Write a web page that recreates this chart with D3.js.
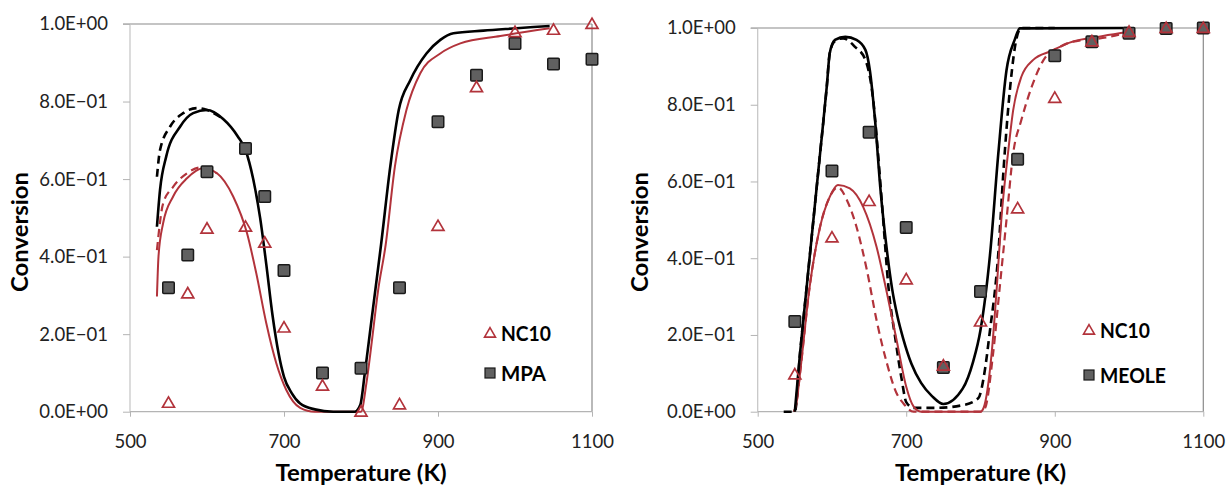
<!DOCTYPE html>
<html>
<head>
<meta charset="utf-8" />
<title>Conversion vs temperature</title>
<script src="https://cdn.jsdelivr.net/npm/d3@7"></script>
<style>
  html, body { margin: 0; background: #fff; }
  svg { display: block; font-family: Lato, "Open Sans", sans-serif; }
</style>
</head>
<body>
<div id="container"></div>
<script>
// ---- data ----
var xTicks = [500, 700, 900, 1100];
var yTicks = [0, 0.2, 0.4, 0.6, 0.8, 1.0];
var yTickLabels = ["0.0E+00", "2.0E\u221201", "4.0E\u221201", "6.0E\u221201", "8.0E\u221201", "1.0E+00"];

// left panel: NC10 / MPA
var leftTemps = [550, 575, 600, 650, 675, 700, 750, 800, 850, 900, 950, 1000, 1050, 1100];
var leftNC10 = [0.023, 0.305, 0.472, 0.477, 0.436, 0.217, 0.067, 0.0, 0.019, 0.479, 0.837, 0.979, 0.985, 1.0];
var leftMPA = [0.32, 0.404, 0.619, 0.679, 0.555, 0.364, 0.10, 0.112, 0.32, 0.748, 0.868, 0.95, 0.897, 0.909];

var leftMPASolid = [[535,0.477],[539,0.572],[547,0.658],[565,0.735],[582,0.77],[600,0.778],[621,0.755],
  [640,0.71],[650,0.675],[660,0.60],[669,0.50],[677,0.38],[685,0.25],[693,0.15],[700,0.09],[710,0.048],
  [721,0.021],[740,0.006],[764,0.0],[792,0.0],[799,0.017],[805,0.10],[812,0.21],[819,0.32],[826,0.43],
  [838,0.632],[849,0.778],[864,0.855],[885,0.924],[903,0.959],[920,0.976],[959,0.983],[1002,0.989],[1045,0.995]];
var leftMPADashed = [[535,0.606],[539,0.675],[552,0.735],[569,0.77],[587,0.783],[600,0.778],[621,0.755]];
var leftNC10Solid = [[535,0.297],[537,0.40],[543,0.486],[556,0.555],[574,0.602],[595,0.628],[613,0.615],
  [634,0.555],[652,0.46],[664,0.357],[677,0.228],[690,0.125],[703,0.056],[721,0.01],[740,0.0],[800,0.0],
  [807,0.073],[814,0.18],[822,0.31],[832,0.43],[844,0.632],[859,0.778],[877,0.873],[903,0.924],[929,0.95],
  [981,0.969],[1045,0.989]];
var leftNC10Dashed = [[535,0.417],[543,0.537],[556,0.58],[574,0.615],[591,0.63],[595,0.628],[613,0.615]];

// right panel: NC10 / MEOLE
var rightTemps = [550, 600, 650, 700, 750, 800, 850, 900, 950, 1000, 1050, 1100];
var rightNC10 = [0.097, 0.454, 0.549, 0.345, 0.12, 0.235, 0.53, 0.818, 0.965, 0.99, 1.0, 1.0];
var rightMEOLE = [0.235, 0.627, 0.728, 0.48, 0.115, 0.313, 0.658, 0.928, 0.964, 0.986, 0.999, 1.0];

var rightMEOLESolid = [[550,0.0],[557,0.152],[566,0.326],[575,0.5],[584,0.673],[593,0.847],[597,0.934],
  [604,0.969],[618,0.977],[633,0.969],[645,0.943],[651,0.89],[658,0.76],[665,0.586],[674,0.42],[681,0.32],
  [688,0.25],[696,0.19],[707,0.125],[720,0.075],[735,0.04],[750,0.02],[776,0.06],[790,0.13],[800,0.213],
  [813,0.413],[824,0.673],[835,0.89],[846,0.969],[853,0.999],[1000,1.0]];
var rightMEOLEDashed = [[535,0.0],[550,0.0],[557,0.152],[566,0.326],[575,0.5],[584,0.673],[593,0.847],
  [597,0.934],[604,0.966],[615,0.973],[631,0.951],[645,0.917],[656,0.804],[662,0.673],[669,0.5],[676,0.326],
  [685,0.195],[694,0.083],[700,0.025],[710,0.01],[740,0.01],[776,0.017],[797,0.035],[806,0.11],[812,0.2],
  [824,0.413],[831,0.63],[840,0.847],[849,0.977],[855,1.0],[900,1.0]];
var rightNC10Solid = [[549,0.0],[552,0.02],[557,0.1],[570,0.326],[584,0.482],[597,0.56],[608,0.591],
  [624,0.582],[642,0.534],[660,0.43],[674,0.309],[687,0.187],[700,0.065],[710,0.013],[720,0.0],[800,0.0],
  [804,0.009],[815,0.152],[822,0.326],[828,0.5],[837,0.673],[844,0.786],[855,0.873],[871,0.917],[895,0.94],
  [920,0.962],[965,0.979],[1000,0.99]];
var rightNC10Dashed = [[549,0.0],[552,0.02],[557,0.1],[570,0.326],[584,0.482],[597,0.56],[608,0.585],
  [620,0.552],[633,0.482],[647,0.369],[660,0.239],[674,0.126],[687,0.048],[696,0.022],[710,0.0],[800,0.0],
  [806,0.009],[817,0.152],[826,0.326],[835,0.5],[844,0.673],[855,0.76],[869,0.847],[885,0.917],[907,0.951],
  [920,0.962],[974,0.977],[1000,0.99]];

var RED = "#b2333b";

var svg = d3.select("#container").append("svg")
    .attr("width", 1228).attr("height", 486);

function drawPanel(p) {
  var x = d3.scaleLinear().domain([500, 1100]).range([p.x0, p.x1]);
  var y = d3.scaleLinear().domain([0, 1]).range([p.y0, p.y1]);
  var g = svg.append("g");

  // frame
  g.append("line").attr("x1", p.x0 - 7).attr("x2", p.x1).attr("y1", p.y1).attr("y2", p.y1)
    .attr("stroke", "#8a8a8a").attr("stroke-width", 1.2);
  g.append("line").attr("x1", p.x1).attr("x2", p.x1).attr("y1", p.y1).attr("y2", p.y0)
    .attr("stroke", "#8a8a8a").attr("stroke-width", 1.2);
  g.append("line").attr("x1", p.x0).attr("x2", p.x0).attr("y1", p.y1).attr("y2", p.y0)
    .attr("stroke", "#c4c4c4").attr("stroke-width", 1.2);
  g.append("line").attr("x1", p.x0).attr("x2", p.x1).attr("y1", p.y0).attr("y2", p.y0)
    .attr("stroke", "#b4b4b4").attr("stroke-width", 1.2);

  // axes
  var ya = g.append("g").attr("transform", "translate(" + p.x0 + ",0)")
    .call(d3.axisLeft(y).tickValues(yTicks).tickSize(7).tickPadding(15)
      .tickFormat(function(d, i) { return yTickLabels[i]; }));
  var xa = g.append("g").attr("transform", "translate(0," + p.y0 + ")")
    .call(d3.axisBottom(x).tickValues(xTicks).tickSize(5).tickPadding(18)
      .tickFormat(d3.format("d")));
  [ya, xa].forEach(function(a) {
    a.select(".domain").remove();
    a.selectAll(".tick line").attr("stroke", "#b4b4b4");
    a.selectAll("text").attr("fill", "#222").style("font-size", "18.5px").style("font-family", "Lato");
  });

  // titles
  g.append("text").attr("x", (p.x0 + p.x1) / 2).attr("y", 481)
    .attr("text-anchor", "middle").style("font-size", "23px").style("font-weight", "bold")
    .attr("textLength", 171).attr("lengthAdjust", "spacingAndGlyphs")
    .text("Temperature (K)");
  g.append("text").attr("transform", "translate(" + p.ylabX + ",232) rotate(-90)")
    .attr("text-anchor", "middle").attr("dy", "0.35em")
    .style("font-size", "22px").style("font-weight", "bold")
    .attr("textLength", 120).attr("lengthAdjust", "spacingAndGlyphs")
    .text("Conversion");

  // model curves
  var line = d3.line().x(function(d) { return x(d[0]); }).y(function(d) { return y(d[1]); })
    .curve(d3.curveMonotoneX);
  function curve(data, color, w, dash) {
    g.append("path").datum(data).attr("d", line).attr("fill", "none")
      .attr("stroke", color).attr("stroke-width", w)
      .attr("stroke-dasharray", dash ? "8,5" : null)
      .attr("stroke-linejoin", "round");
  }
  curve(p.redDashed, RED, 2.2, true);
  curve(p.blackDashed, "#000", 2.6, true);
  curve(p.redSolid, RED, 2.0, false);
  curve(p.blackSolid, "#000", 2.6, false);

  // experimental points
  var sq = 11.5;
  g.selectAll("rect.pt").data(p.temps).enter().append("rect").attr("class", "pt")
    .attr("x", function(d) { return x(d) - sq / 2; })
    .attr("y", function(d, i) { return y(p.squares[i]) - sq / 2; })
    .attr("width", sq).attr("height", sq).attr("rx", 1)
    .attr("fill", "#606060").attr("stroke", "#1a1a1a").attr("stroke-width", 1.5);
  var tri = d3.symbol().type(d3.symbolTriangle).size(62);
  g.selectAll("path.tri").data(p.temps).enter().append("path").attr("class", "tri")
    .attr("d", tri)
    .attr("transform", function(d, i) { return "translate(" + x(d) + "," + (y(p.triangles[i]) + 1) + ")"; })
    .attr("fill", "none").attr("stroke", RED).attr("stroke-width", 1.7);

  // legend
  g.append("path").attr("d", d3.symbol().type(d3.symbolTriangle).size(52))
    .attr("transform", "translate(" + p.legX + "," + (p.legY1 + 1) + ")")
    .attr("fill", "none").attr("stroke", RED).attr("stroke-width", 1.6);
  g.append("rect").attr("x", p.legX - 5).attr("y", p.legY2 - 5).attr("width", 10).attr("height", 10)
    .attr("fill", "#606060").attr("stroke", "#1a1a1a").attr("stroke-width", 1.2);
  g.append("text").attr("x", p.legX + 11).attr("y", p.legY1).attr("dy", "0.36em")
    .style("font-size", "21px").style("font-weight", "bold")
    .attr("textLength", 50).attr("lengthAdjust", "spacingAndGlyphs").text("NC10");
  g.append("text").attr("x", p.legX + 11).attr("y", p.legY2).attr("dy", "0.36em")
    .style("font-size", "21px").style("font-weight", "bold")
    .attr("textLength", p.nameW).attr("lengthAdjust", "spacingAndGlyphs").text(p.name);
}

drawPanel({
  x0: 130, x1: 592, y0: 411.7, y1: 24, ylabX: 20,
  temps: leftTemps, triangles: leftNC10, squares: leftMPA,
  blackSolid: leftMPASolid, blackDashed: leftMPADashed,
  redSolid: leftNC10Solid, redDashed: leftNC10Dashed,
  legX: 490, legY1: 333, legY2: 373, name: "MPA", nameW: 45
});
drawPanel({
  x0: 757.7, x1: 1203.3, y0: 411.7, y1: 28, ylabX: 640,
  temps: rightTemps, triangles: rightNC10, squares: rightMEOLE,
  blackSolid: rightMEOLESolid, blackDashed: rightMEOLEDashed,
  redSolid: rightNC10Solid, redDashed: rightNC10Dashed,
  legX: 1089, legY1: 330, legY2: 375, name: "MEOLE", nameW: 66
});
</script>
</body>
</html>
